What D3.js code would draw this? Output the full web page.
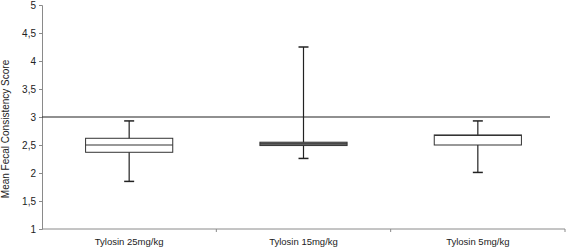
<!DOCTYPE html>
<html>
<head>
<meta charset="utf-8">
<script src="https://cdn.jsdelivr.net/npm/d3@7"></script>
<style>
  body { margin: 0; background: #fff; }
  text { font-family: "Liberation Sans", Arial, sans-serif; fill: #222; }
</style>
</head>
<body>
<script>
// data
var groups  = ["Tylosin 25mg/kg", "Tylosin 15mg/kg", "Tylosin 5mg/kg"];
var whiskLo = [1.85, 2.26, 2.01];
var q1      = [2.37, 2.49, 2.50];
var median  = [2.50, 2.52, 2.67];
var q3      = [2.62, 2.55, 2.68];
var whiskHi = [2.93, 4.25, 2.93];
var yTicks  = [1, 1.5, 2, 2.5, 3, 3.5, 4, 4.5, 5];
var refValue = 3;

var data = groups.map(function(g, i) {
    return {name: g, lo: whiskLo[i], q1: q1[i], med: median[i], q3: q3[i], hi: whiskHi[i]};
});

var margin = {top: 5, right: 2, bottom: 18, left: 42},
    width = 567 - margin.left - margin.right,
    height = 247 - margin.top - margin.bottom;

var x = d3.scaleBand().domain(groups).range([0, width]).paddingInner(0).paddingOuter(0);
var y = d3.scaleLinear().domain([1, 5]).range([height, 0]);

var svg = d3.select("body")
    .append("svg")
    .attr("width", 567)
    .attr("height", 247)
    .append("g")
    .attr("transform", "translate(" + margin.left + "," + margin.top + ")");

var fmt = function(d) { return String(d).replace(".", ","); };

// y axis
var yAxis = svg.append("g")
    .call(d3.axisLeft(y).tickValues(yTicks).tickFormat(fmt).tickSize(3).tickPadding(3));
yAxis.selectAll("path, line").attr("stroke", "#8a8a8a");
yAxis.selectAll("text").style("font-size", "10px").attr("fill", "#333")
    .style("font-family", "Liberation Sans, Arial, sans-serif");

// x axis, ticks at band boundaries
var xAxis = svg.append("g")
    .attr("transform", "translate(0," + height + ")");
xAxis.append("line")
    .attr("x1", 0).attr("x2", width)
    .attr("stroke", "#8a8a8a");
xAxis.selectAll(".bound")
    .data(groups.slice(1).concat(["end"]))
    .enter()
    .append("line")
    .attr("x1", function(d, i) { return x(groups[0]) + x.bandwidth() * (i + 1); })
    .attr("x2", function(d, i) { return x(groups[0]) + x.bandwidth() * (i + 1); })
    .attr("y1", 0).attr("y2", 3)
    .attr("stroke", "#8a8a8a");
xAxis.selectAll(".lbl")
    .data(groups)
    .enter()
    .append("text")
    .attr("x", function(d) { return x(d) + x.bandwidth() / 2; })
    .attr("y", 16)
    .attr("text-anchor", "middle")
    .style("font-size", "9.5px")
    .text(function(d) { return d; });

// y axis title
svg.append("text")
    .attr("transform", "rotate(-90)")
    .attr("x", -(y(3) + 12))
    .attr("y", -margin.left + 9)
    .attr("text-anchor", "middle")
    .style("font-size", "10px")
    .text("Mean Fecal Consistency Score");

// reference line
svg.append("line")
    .attr("x1", 0)
    .attr("x2", width - 15)
    .attr("y1", y(refValue)).attr("y2", y(refValue))
    .attr("stroke", "#222")
    .attr("stroke-width", 1.2);

var boxW = x.bandwidth() * 0.5;
var capW = 10;

var box = svg.selectAll(".box")
    .data(data)
    .enter()
    .append("g")
    .attr("transform", function(d) { return "translate(" + (x(d.name) + x.bandwidth() / 2) + ",0)"; });

// whiskers
box.append("line")
    .attr("y1", function(d) { return y(d.lo); })
    .attr("y2", function(d) { return y(d.hi); })
    .attr("stroke", "#222").attr("stroke-width", 1.2);
box.append("line")
    .attr("x1", -capW / 2).attr("x2", capW / 2)
    .attr("y1", function(d) { return y(d.hi); })
    .attr("y2", function(d) { return y(d.hi); })
    .attr("stroke", "#222").attr("stroke-width", 1.5);
box.append("line")
    .attr("x1", -capW / 2).attr("x2", capW / 2)
    .attr("y1", function(d) { return y(d.lo); })
    .attr("y2", function(d) { return y(d.lo); })
    .attr("stroke", "#222").attr("stroke-width", 1.5);

// boxes
box.append("rect")
    .attr("x", -boxW / 2)
    .attr("width", boxW)
    .attr("y", function(d) { return y(d.q3); })
    .attr("height", function(d) { return y(d.q1) - y(d.q3); })
    .attr("fill", function(d) { return (y(d.q1) - y(d.q3)) < 5 ? "#888" : "#fff"; })
    .attr("stroke", "#333").attr("stroke-width", 1);

// median
box.append("line")
    .attr("x1", -boxW / 2).attr("x2", boxW / 2)
    .attr("y1", function(d) { return y(d.med); })
    .attr("y2", function(d) { return y(d.med); })
    .attr("stroke", "#333").attr("stroke-width", 1.2);
</script>
</body>
</html>
